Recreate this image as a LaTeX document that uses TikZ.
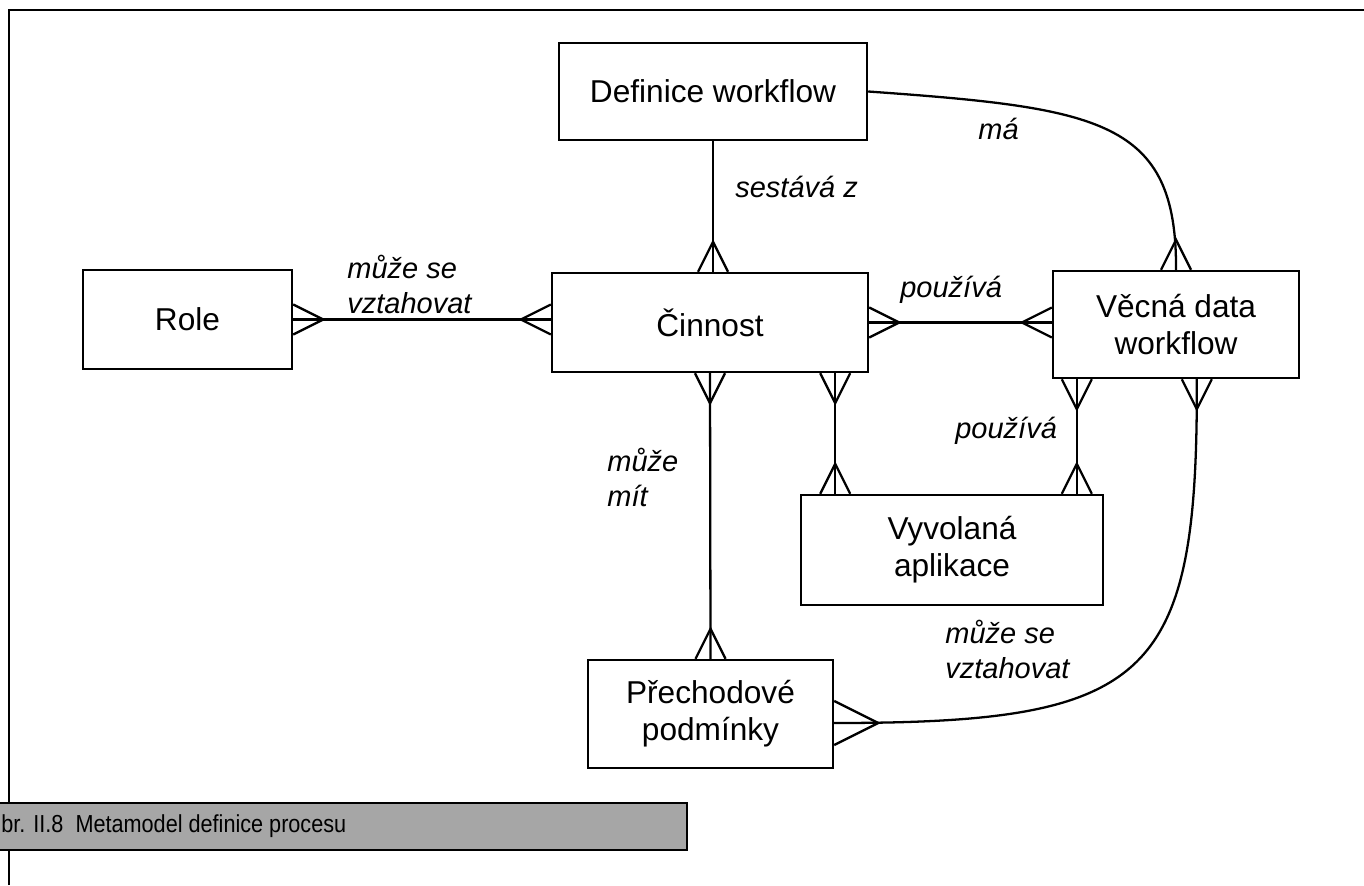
\documentclass[tikz,border=0pt]{standalone}
\usepackage{fontspec}
\setmainfont{Liberation Sans}
\usetikzlibrary{positioning,calc}

\tikzset{
  entity/.style={draw, line width=1.4pt, align=center, inner sep=0pt,
    font=\fontsize{18}{21}\selectfont},
  rel/.style={align=left, inner sep=0pt, font=\fontsize{16.5}{19.8}\selectfont\itshape},
  link/.style={line width=1.3pt},
}
% crow's foot: edge point, offset of the apex
\newcommand{\crow}[2]{%
  \path (#1) coordinate (e) ++(#2) coordinate (a);
  \draw[link] ($(e)!0.5!90:(a)$) -- (a) -- ($(e)!0.5!-90:(a)$);}

\begin{document}
\begin{tikzpicture}[x=0.02cm,y=-0.02cm]
   \useasboundingbox (0,0) rectangle (1364,885);

   % frame
   \draw[line width=1.2pt] (9,885) -- (9,10) -- (1364,10);

   \node[entity, minimum width=6.16cm, minimum height=1.94cm] (dw) at (713,91.5) {Definice workflow};
   \node[entity, minimum width=4.18cm, minimum height=1.98cm] (ro) at (187.5,319.5) {Role};
   \node[entity, minimum width=6.32cm, minimum height=1.98cm] (ci) at (710,322.5) {Činnost};
   \node[entity, minimum width=4.92cm, minimum height=2.14cm] (vd) at (1176,324.5) {Věcná data\\workflow};
   \node[entity, minimum width=6.04cm, minimum height=2.20cm] (va) at (952,550) {Vyvolaná\\aplikace};
   \node[entity, minimum width=4.90cm, minimum height=2.16cm] (pp) at (710.5,714) {Přechodové\\podmínky};

   \coordinate (c0) at (dw.south |- ci.north);
   \coordinate (c1) at (ro.east -| ci.west);
   \coordinate (c2) at (ci.east -| vd.west);
   \coordinate (c3) at ($(ci.south east)+(-34,0)$);
   \coordinate (c4) at (c3 |- va.north);
   \coordinate (v1) at ($(vd.south west)+(25,0)$);
   \coordinate (v2) at (v1 |- va.north);
   \coordinate (v3) at ($(vd.south west)+(145,0)$);
   \coordinate (p1) at ($(pp.east)+(0,9)$);

   \draw[link] (dw.south) -- (c0);
   \draw[link] (ro.east) -- (c1);
   \draw[link] (ci.east) -- (c2);
   \draw[link] (ci.south) -- (pp.north);
   \draw[link] (c3) -- (c4);
   \draw[link] (v1) -- (v2);
   \draw[link] (dw.east) .. controls (1100,108) and (1177,120) .. (vd.north);
   \draw[link] (v3) .. controls (1198,680) and (1150,723) .. (p1);

   \crow{c0}{0,-30}
   \crow{ro.east}{30,0}
   \crow{c1}{-30,0}
   \crow{ci.east}{30,0}
   \crow{c2}{-30,0}
   \crow{ci.south}{0,30}
   \crow{pp.north}{0,-30}
   \crow{c3}{0,30}
   \crow{c4}{0,-30}
   \crow{v1}{0,30}
   \crow{v2}{0,-30}
   \crow{v3}{0,30}
   \crow{p1}{44,0}
   \crow{vd.north}{0,-30}

   % relation names
   \node[rel, anchor=base west] (l1) at (735,197) {sestává z};
   \node[rel, anchor=base west] (l2) at (978,140) {má};
   \node[rel, anchor=north west] (l3) at (347,255) {může se\\vztahovat};
   \node[rel, anchor=base west] (l4) at (900,297) {používá};
   \node[rel, anchor=base west] (l5) at (955,438) {používá};
   \node[rel, anchor=north west] (l6) at (607,448) {může\\mít};
   \node[rel, anchor=north west] (l7) at (945,620) {může se\\vztahovat};

   % caption
   \draw[line width=1.2pt, fill=black!35] (-2,803) rectangle (687,850);
   \node[anchor=west, inner sep=0pt, font=\fontsize{14}{16}\selectfont] (cap) at (1,826.5)
      {\scalebox{0.88}[1]{br. II.8\ \ Metamodel definice procesu}};
\end{tikzpicture}
\end{document}
